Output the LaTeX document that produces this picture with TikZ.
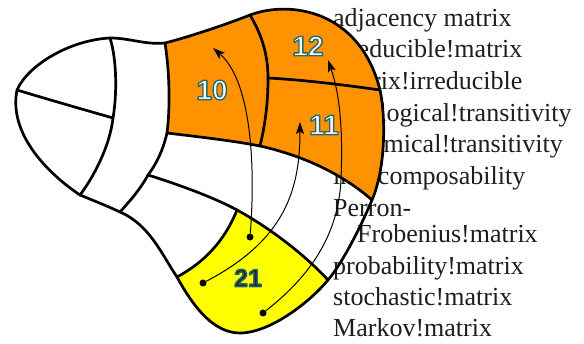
\documentclass[tikz,border=0pt]{standalone}
\usepackage{fontspec}
\setmainfont{Liberation Serif}
\newfontfamily\numfont{Liberation Sans}
\usetikzlibrary{arrows.meta}
\definecolor{orng}{RGB}{255,146,0}
\definecolor{yllw}{RGB}{255,255,0}
\definecolor{tealo}{RGB}{40,105,105}
\definecolor{txtc}{RGB}{30,30,30}
\newcommand\outlinedigits[1]{\special{pdf:code q 2 Tr 1.4 w 1 j 0.157 0.412 0.412 RG}#1\special{pdf:code Q}}
\tikzset{
  edgeline/.style={line width=2.7pt, line join=round, line cap=round},
  arr/.style={line width=1pt, -{Stealth[length=12pt,width=8pt,inset=2.5pt]}},
  dotmark/.style={circle, fill=black, inner sep=0pt, minimum size=7pt},
  idx/.style={anchor=base west, inner sep=0pt, font=\fontsize{26}{31}\selectfont, text=txtc},
  lbl/.style={font=\numfont\bfseries\fontsize{28}{28}\selectfont, inner sep=0pt},
  lblsmall/.style={font=\numfont\bfseries\fontsize{25}{25}\selectfont, inner sep=0pt},
}
\begin{document}
\begin{tikzpicture}[x=1pt,y=-1pt]
\useasboundingbox (0,0) rectangle (584,344);
% index text (behind the figure)
\node[idx] (t1) at (333,27) {adjacency matrix};
\node[idx] (t2) at (333,58) {irreducible!matrix};
\node[idx] (t3) at (333,90) {matrix!irreducible};
\node[idx] (t4) at (333,122) {topological!transitivity};
\node[idx] (t5) at (333,153) {dynamical!transitivity};
\node[idx] (t6) at (333,185) {indecomposability};
\node[idx] (t7) at (333,217) {Perron-};
\node[idx] (t8) at (357,243) {Frobenius!matrix};
\node[idx] (t9) at (333,275) {probability!matrix};
\node[idx] (t10) at (333,306) {stochastic!matrix};
\node[idx] (t11) at (333,337) {Markov!matrix};
% junction points
\coordinate (A) at (165,43);
\coordinate (B) at (250,15);
\coordinate (C) at (380,90);
\coordinate (D) at (372,200);
\coordinate (E) at (328,280);
\coordinate (F) at (240,333);
\coordinate (G) at (177,277);
\coordinate (H) at (237,210);
\coordinate (I) at (148,175);
\coordinate (J) at (167,133);
\coordinate (K) at (260,146);
\coordinate (L) at (268,78);
\coordinate (M) at (110,38);
\coordinate (N) at (17,90);
\coordinate (O) at (113,118);
\coordinate (P) at (80,195);
\coordinate (Q) at (120,212);
% fills
\fill[orng] (A) .. controls (185,38) and (225,25) .. (B) .. controls (290,0) and (360,10) .. (C)
  .. controls (385,112) and (387,165) .. (D) .. controls (340,172) and (300,155) .. (K)
  .. controls (235,141) and (200,137) .. (J) .. controls (170,110) and (170,75) .. (A) -- cycle;
\fill[yllw] (H) .. controls (270,228) and (305,255) .. (E) .. controls (310,302) and (270,333) .. (F)
  .. controls (215,333) and (195,310) .. (G) .. controls (205,262) and (225,240) .. (H) -- cycle;
% outline
\draw[edgeline] (A) .. controls (185,38) and (225,25) .. (B) .. controls (290,0) and (360,10) .. (C)
  .. controls (385,112) and (387,165) .. (D) .. controls (365,217) and (345,260) .. (E)
  .. controls (310,302) and (270,333) .. (F) .. controls (215,333) and (195,310) .. (G)
  .. controls (162,255) and (150,225) .. (Q) .. controls (105,205) and (92,200) .. (P)
  .. controls (50,175) and (8,135) .. (N) .. controls (28,65) and (70,40) .. (M)
  .. controls (130,38) and (145,45) .. (A) -- cycle;
% inner lines
\draw[edgeline] (N) .. controls (50,100) and (85,110) .. (O);
\draw[edgeline] (M) .. controls (117,60) and (117,95) .. (O) .. controls (110,145) and (95,175) .. (P);
\draw[edgeline] (A) .. controls (170,75) and (170,110) .. (J) .. controls (163,150) and (157,163) .. (I)
  .. controls (140,190) and (128,203) .. (Q);
\draw[edgeline] (I) .. controls (180,185) and (215,198) .. (H) .. controls (270,228) and (305,255) .. (E);
\draw[edgeline] (J) .. controls (200,137) and (235,141) .. (K) .. controls (300,155) and (340,172) .. (D);
\draw[edgeline] (H) .. controls (225,240) and (205,262) .. (G);
\draw[edgeline] (B) .. controls (262,35) and (268,55) .. (L) .. controls (268,105) and (265,125) .. (K);
\draw[edgeline] (L) .. controls (305,80) and (345,85) .. (C);
% arrows
\node[dotmark] (d10) at (250,237) {};
\node[dotmark] (d11) at (203,283) {};
\node[dotmark] (d12) at (263,313) {};
\coordinate (e10) at (213,48);
\coordinate (e11) at (300,122);
\coordinate (e12) at (328,60);
\draw[arr] (d10) .. controls (256,160) and (250,80) .. (e10);
\draw[arr] (d11) .. controls (285,240) and (300,190) .. (e11);
\draw[arr] (d12) .. controls (305,280) and (338,240) .. (341,180) .. controls (343,130) and (340,95) .. (e12);
% labels
\node[lbl, text=white] (n10) at (212,90) {\outlinedigits{10}};
\node[lbl, text=white] (n12) at (308,46) {\outlinedigits{12}};
\node[lbl, text=white] (n11) at (324,125) {\outlinedigits{11}};
\node[lblsmall, text=black!85] (n21) at (248,278) {\outlinedigits{21}};
\end{tikzpicture}
\end{document}
